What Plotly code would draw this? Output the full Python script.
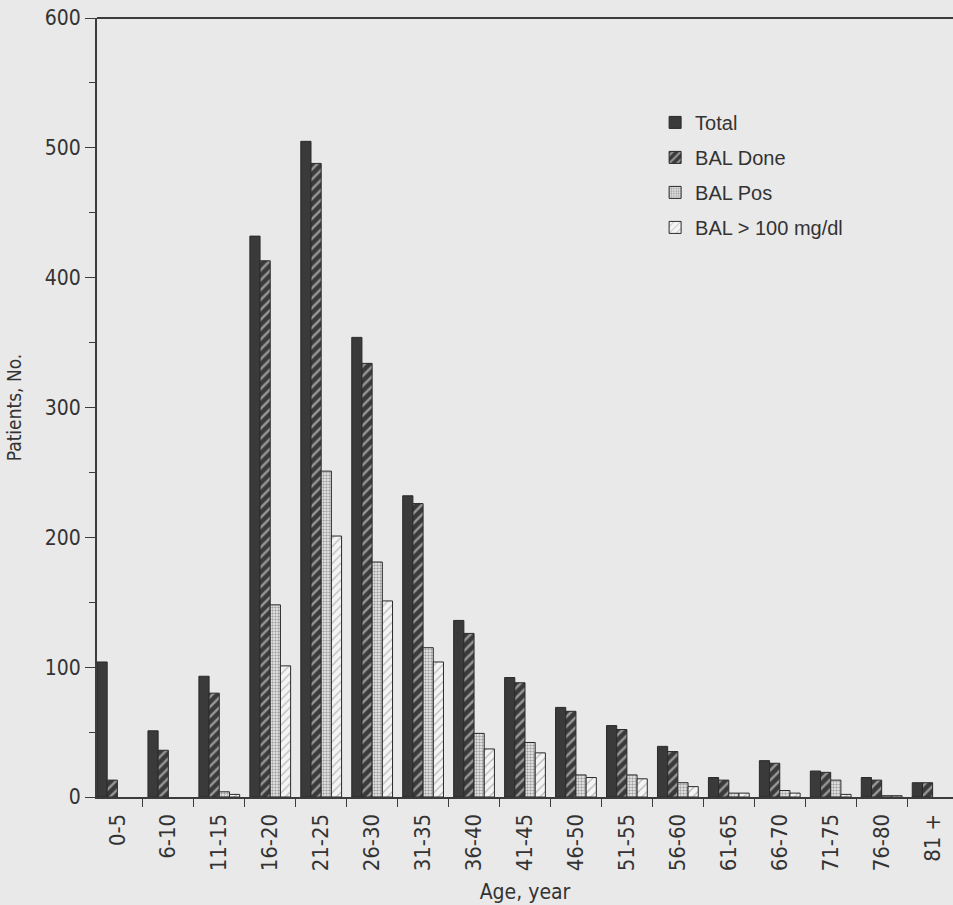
import plotly.graph_objects as go

age_groups = ["0-5", "6-10", "11-15", "16-20", "21-25", "26-30", "31-35", "36-40",
              "41-45", "46-50", "51-55", "56-60", "61-65", "66-70", "71-75", "76-80", "81 +"]
total = [104, 51, 93, 432, 505, 354, 232, 136, 92, 69, 55, 39, 15, 28, 20, 15, 11]
bal_done = [13, 36, 80, 413, 488, 334, 226, 126, 88, 66, 52, 35, 13, 26, 19, 13, 11]
bal_pos = [0, 0, 4, 148, 251, 181, 115, 49, 42, 17, 17, 11, 3, 5, 13, 1, 0]
bal_100 = [0, 0, 2, 101, 201, 151, 104, 37, 34, 15, 14, 8, 3, 3, 2, 1, 0]
y_ticks = [0, 100, 200, 300, 400, 500, 600]


def nz(vals):
    # zero-height bars are not drawn in the reference
    return [v if v else None for v in vals]


bg = "#e9e9e9"
axis_col = "#3c3c3c"
cond = "Liberation Sans Narrow, DejaVu Sans Condensed, Arial Narrow, sans-serif"

fig = go.Figure()
line = dict(color="#2a2a2a", width=1)
fig.add_trace(go.Bar(x=age_groups, y=nz(total), name="Total", legendgroup="a",
                     marker=dict(color="#3a3a3a", line=line)))
fig.add_trace(go.Bar(x=age_groups, y=nz(bal_done), name="BAL Done", legendgroup="b",
                     marker=dict(color="#3a3a3a", line=line,
                                 pattern=dict(shape="/", fillmode="overlay", fgcolor="#f4f4f4",
                                              size=7, solidity=0.35))))
fig.add_trace(go.Bar(x=age_groups, y=nz(bal_pos), name="BAL Pos", legendgroup="c",
                     marker=dict(color="#f0f0f0", line=line,
                                 pattern=dict(shape=".", fillmode="overlay", fgcolor="#555555",
                                              size=3, solidity=0.5))))
fig.add_trace(go.Bar(x=age_groups, y=nz(bal_100), name="BAL > 100 mg/dl", legendgroup="d",
                     marker=dict(color="#f4f4f4", line=line,
                                 pattern=dict(shape="/", fillmode="overlay", fgcolor="#7a7a7a",
                                              size=6, solidity=0.2))))

fig.update_layout(
    width=953, height=905,
    margin=dict(l=97, r=0, t=18, b=108),
    paper_bgcolor=bg, plot_bgcolor=bg,
    barmode="group", bargap=0.2, bargroupgap=0,
    font=dict(family=cond, size=20, color="#333"),
    legend=dict(x=0.652, y=0.891, xanchor="left", yanchor="top",
                bgcolor="rgba(0,0,0,0)", tracegroupgap=6,
                font=dict(family="Liberation Sans, Arial, sans-serif", size=20, color="#333")),
    xaxis=dict(range=[-0.4, 16.4], showline=True, linecolor=axis_col, linewidth=2,
               mirror=False, ticks="outside", ticklen=8, tickcolor=axis_col,
               tickangle=-90, tickson="boundaries", showgrid=False, ticklabelstandoff=6,
               tickfont=dict(family=cond, size=22, color="#333"),
               title=dict(text="Age, year", font=dict(family=cond, size=21, color="#333"),
                          standoff=14)),
    yaxis=dict(range=[0, 600], tickvals=y_ticks, showline=True, linecolor=axis_col,
               linewidth=2, ticks="outside", ticklen=10, tickcolor=axis_col, showgrid=False,
               zeroline=False,
               minor=dict(dtick=50, ticks="outside", ticklen=6, tickcolor=axis_col),
               tickfont=dict(family=cond, size=21, color="#333"),
               title=dict(text="Patients, No.", font=dict(family=cond, size=19, color="#333"),
                          standoff=18)),
)
fig.add_shape(type="line", xref="paper", yref="paper", x0=0, x1=1, y0=1, y1=1,
              line=dict(color=axis_col, width=2))

fig.write_html("out.html")
